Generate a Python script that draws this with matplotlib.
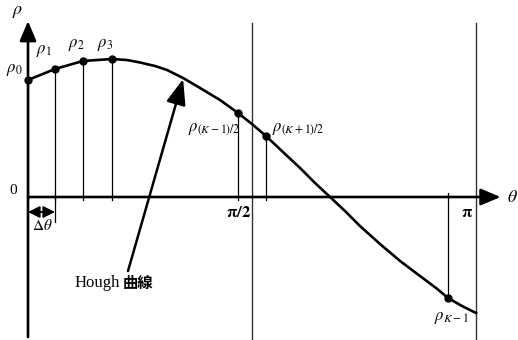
import matplotlib
matplotlib.use("Agg")
import matplotlib.pyplot as plt

plt.rcParams['mathtext.fontset'] = 'stix'
plt.rcParams['font.family'] = ['Liberation Serif', 'Noto Sans CJK JP', 'DejaVu Sans']

# Hough curve rho(theta)
theta = [0.000, 0.202, 0.411, 0.628, 0.740, 0.838, 0.950, 1.040, 1.160, 1.287,
         1.436, 1.571, 1.675, 1.780, 1.907, 2.035, 2.147, 2.259, 2.371, 2.483,
         2.633, 2.783, 2.932, 3.052, 3.142, 3.246, 3.351]
rho = [1.17, 1.28, 1.36, 1.38, 1.37, 1.345, 1.31, 1.27, 1.19, 1.09,
       0.97, 0.84, 0.73, 0.61, 0.45, 0.29, 0.14, 0.00, -0.14, -0.29,
       -0.47, -0.64, -0.79, -0.91, -1.01, -1.09, -1.16]

# sampled points rho_0 .. rho_{K-1}
samp_theta = [0.000, 0.202, 0.411, 0.628, 1.571, 1.780, 3.142]
samp_rho = [1.17, 1.28, 1.36, 1.38, 0.84, 0.61, -1.01]
samp_labels = [r'$\rho_0$', r'$\rho_1$', r'$\rho_2$', r'$\rho_3$',
               r'$\rho_{(K-1)/2}$', r'$\rho_{(K+1)/2}$', r'$\rho_{K-1}$']
label_pos = [(-0.105, 1.27), (0.12, 1.46), (0.36, 1.52), (0.58, 1.52),
             (1.39, 0.67), (2.02, 0.67), (3.17, -1.21)]

# page rules either side of the curve
rules = [1.675, 3.351]

fig = plt.figure(figsize=(5.18, 3.40), dpi=100)
ax = fig.add_axes([0, 0, 1, 1])
ax.set_xlim(-0.2094, 3.665)
ax.set_ylim(-1.43, 1.97)
ax.axis('off')

for r in rules:
    ax.plot([r, r], [1.74, -1.43], color='#333333', lw=1.0)

# axes with arrow heads
arrow = dict(arrowstyle='-|>,head_length=1.0,head_width=0.42', mutation_scale=12,
             color='black', lw=1.9, shrinkA=0, shrinkB=0)
ax.annotate('', xy=(0, 1.76), xytext=(0, -1.40), arrowprops=arrow)
ax.annotate('', xy=(3.535, 0), xytext=(0, 0), arrowprops=arrow)

# drop lines from the samples to the theta axis
for t, p in zip(samp_theta, samp_rho):
    if p > 0:
        ax.plot([t, t], [p, -0.03], color='black', lw=0.9)
    else:
        ax.plot([t, t], [0.04, p], color='black', lw=0.9)
ax.plot([0.202, 0.202], [0, -0.25], color='black', lw=0.9)

ax.plot(theta, rho, color='black', lw=1.9, solid_joinstyle='round')
ax.plot(samp_theta, samp_rho, 'o', color='black', ms=5)

for lab, (x, y) in zip(samp_labels, label_pos):
    ax.text(x, y, lab, fontsize=12, ha='center', va='center')

ax.text(-0.075, 1.86, r'$\rho$', fontsize=13, ha='center', va='center')
ax.text(3.62, -0.01, r'$\theta$', fontsize=13, ha='center', va='center')
ax.text(-0.112, 0.07, '0', fontsize=11, ha='center', va='center')
ax.text(1.571, -0.16, r'$\mathbf{\pi/2}$', fontsize=12, ha='center', va='center')
ax.text(3.285, -0.16, r'$\mathbf{\pi}$', fontsize=12, ha='center', va='center')

# delta-theta spacing
ax.annotate('', xy=(0.0, -0.15), xytext=(0.202, -0.15),
            arrowprops=dict(arrowstyle='<|-|>,head_length=0.7,head_width=0.35',
                            mutation_scale=10, color='black', lw=1.3,
                            shrinkA=0, shrinkB=0))
ax.text(0.105, -0.28, r'$\Delta\theta$', fontsize=11, ha='center', va='center')

ax.annotate('', xy=(1.160, 1.18), xytext=(0.748, -0.74),
            arrowprops=dict(arrowstyle='-|>,head_length=1.3,head_width=0.5',
                            mutation_scale=12, color='black', lw=1.8,
                            shrinkA=0, shrinkB=0))
ax.text(0.685, -0.86, 'Hough', fontsize=12, ha='right', va='center')
ax.text(0.71, -0.86, '曲線', fontsize=11, fontweight='bold',
        family=['Noto Sans CJK JP', 'DejaVu Sans'], ha='left', va='center')

fig.savefig('out.png', dpi=100, facecolor='white')
